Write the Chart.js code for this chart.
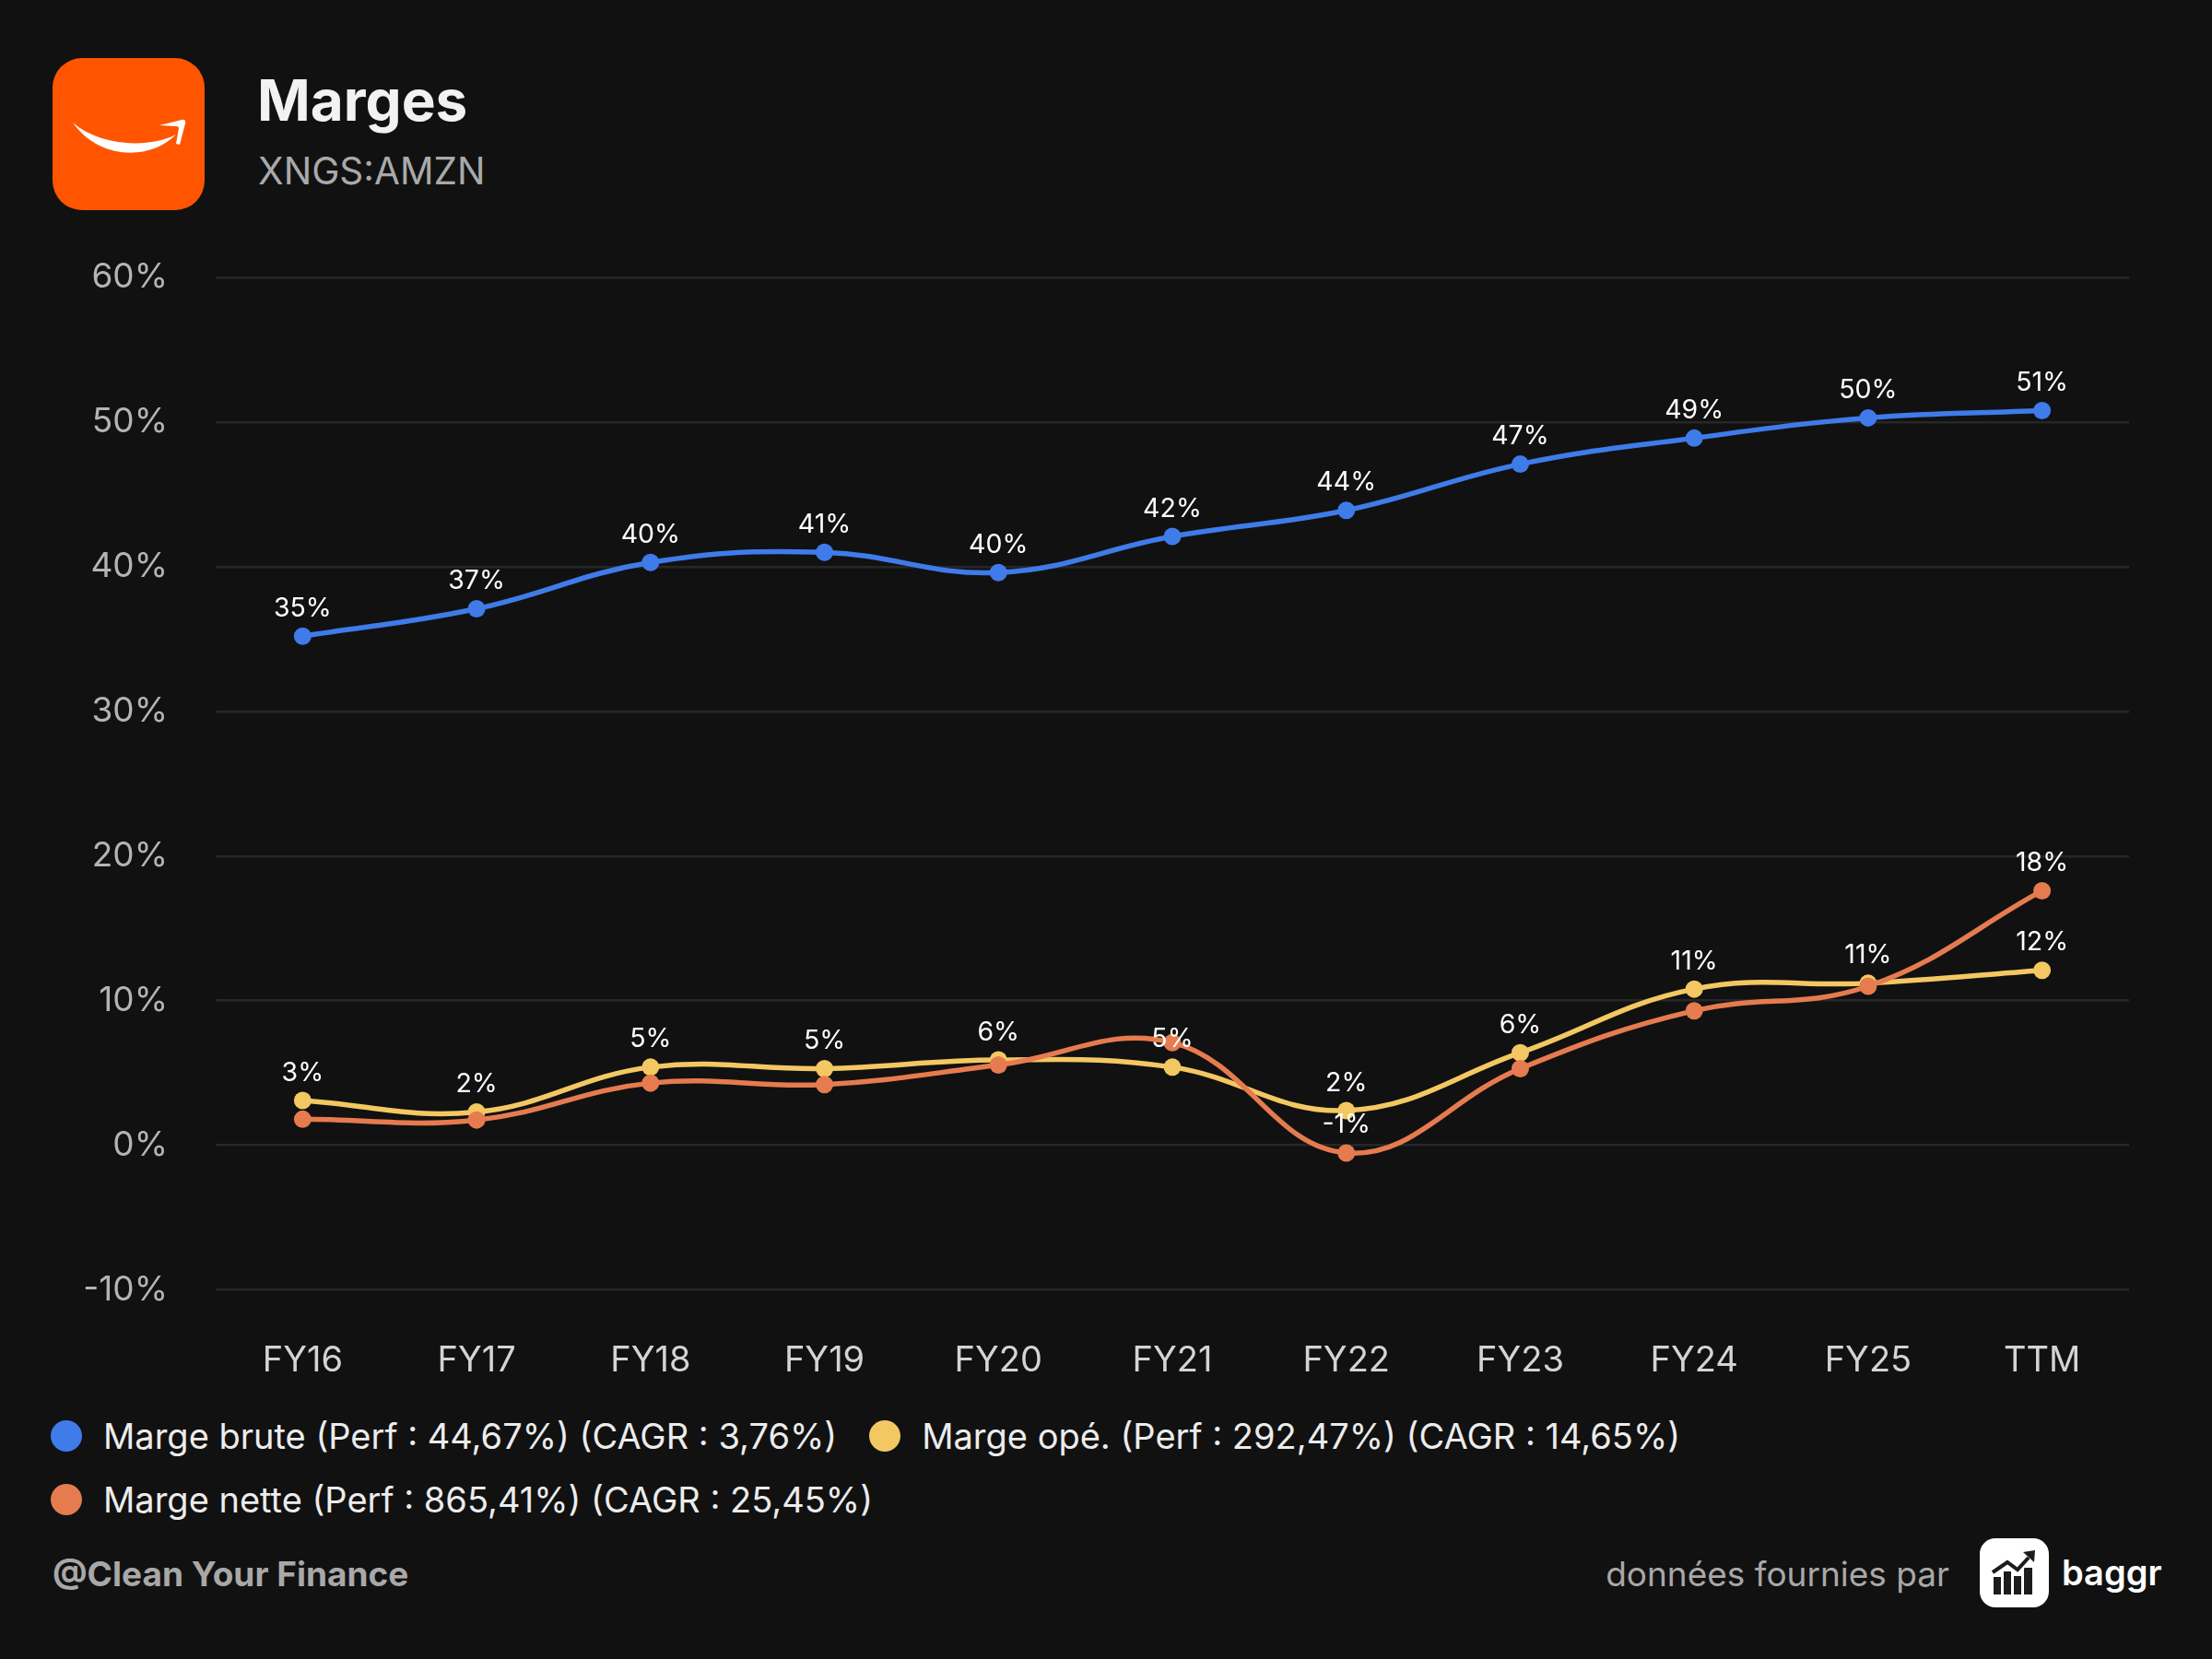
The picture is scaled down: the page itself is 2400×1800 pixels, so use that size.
<!DOCTYPE html>
<html>
<head>
<meta charset="utf-8">
<script src="https://cdn.jsdelivr.net/npm/chart.js@4.4.1/dist/chart.umd.min.js"></script>
<style>
html,body{margin:0;padding:0;background:#111111;width:2400px;height:1800px;overflow:hidden;font-family:Inter,"Noto Sans",sans-serif;}
.abs{position:absolute;white-space:nowrap;}
#logo{left:57px;top:63px;width:165px;height:165px;}
#title{left:279px;top:78px;font-size:62px;line-height:62px;font-weight:700;color:#f2f2f2;}
#subtitle{left:280px;top:166px;font-size:40.5px;line-height:39px;font-weight:400;color:#a9a9a9;}
#chartWrap{left:0;top:226.5px;width:2400px;height:1303.5px;}
.lrow{position:absolute;left:55px;height:44px;display:flex;align-items:center;gap:35px;}
.litem{display:flex;align-items:center;font-size:38px;line-height:44px;color:#ececec;}
.dot{width:34px;height:34px;border-radius:50%;margin-right:23px;flex:none;}
#credit{left:57px;top:1686px;font-size:37px;line-height:44px;font-weight:700;color:#a8a8a8;}
#source{right:285px;top:1686px;font-size:37px;line-height:44px;color:#a8a8a8;}
#bicon{left:2148px;top:1669px;width:75px;height:75px;}
#bname{left:2237px;top:1684px;font-size:38px;line-height:44px;font-weight:600;color:#ffffff;}
</style>
</head>
<body>
<svg id="logo" class="abs" viewBox="0 0 165 165">
  <rect x="0" y="0" width="165" height="165" rx="32" ry="32" fill="#FF5500"/>
  <path d="M22 70 C50 110 105 112 134 83 C104 98 52 96 22 70 Z" fill="#ffffff"/>
  <path d="M116 73 L140 67 Q145 66 144 71 L138 94 L134 93 L137 76 Q137 74 134 74 Z" fill="#ffffff"/>
</svg>
<div id="title" class="abs">Marges</div>
<div id="subtitle" class="abs">XNGS:AMZN</div>

<div id="chartWrap" class="abs"><canvas id="chart"></canvas></div>

<div id="legend"></div>

<div id="credit" class="abs">@Clean Your Finance</div>
<div id="source" class="abs">données fournies par</div>
<svg id="bicon" class="abs" viewBox="0 0 75 75">
  <rect x="0" y="0" width="75" height="75" rx="17" ry="17" fill="#ffffff"/>
  <rect x="15" y="42" width="8" height="19" fill="#1c1c1c"/>
  <rect x="26" y="36" width="8" height="25" fill="#1c1c1c"/>
  <rect x="37" y="41" width="8" height="20" fill="#1c1c1c"/>
  <rect x="48" y="32" width="9" height="29" fill="#1c1c1c"/>
  <path d="M14 39 L30 28 L41 36 L54 22" stroke="#ffffff" stroke-width="6" fill="none"/>
  <path d="M14 37 L30 26 L41 34 L53 21" stroke="#1c1c1c" stroke-width="4" fill="none"/>
  <path d="M47 15 L60 13 L59 26 Z" fill="#1c1c1c"/>
</svg>
<div id="bname" class="abs">baggr</div>

<script>
// ---- Data ----
const categories = ["FY16","FY17","FY18","FY19","FY20","FY21","FY22","FY23","FY24","FY25","TTM"];
const margeBrute = [35.2, 37.1, 40.3, 41.0, 39.6, 42.1, 43.9, 47.1, 48.9, 50.3, 50.8];
const margeOpe   = [3.1, 2.3, 5.4, 5.3, 5.9, 5.4, 2.4, 6.4, 10.8, 11.2, 12.1];
const margeNette = [1.8, 1.75, 4.3, 4.2, 5.55, 7.1, -0.53, 5.3, 9.3, 11.0, 17.6];
const seriesNames = [
  "Marge brute (Perf : 44,67%) (CAGR : 3,76%)",
  "Marge opé. (Perf : 292,47%) (CAGR : 14,65%)",
  "Marge nette (Perf : 865,41%) (CAGR : 25,45%)"
];
const seriesColors = ["#3f7be9", "#f3c862", "#e57b4f"];
const yTicks = [-10, 0, 10, 20, 30, 40, 50, 60];

// ---- Legend (HTML) ----
(function(){
  const legend = document.getElementById('legend');
  const rows = [[0,1],[2]];
  const tops = [1536, 1605];
  rows.forEach((r, ri) => {
    const row = document.createElement('div');
    row.className = 'lrow';
    row.style.top = tops[ri] + 'px';
    r.forEach(i => {
      const it = document.createElement('div');
      it.className = 'litem';
      const d = document.createElement('span');
      d.className = 'dot';
      d.style.background = seriesColors[i];
      it.appendChild(d);
      it.appendChild(document.createTextNode(seriesNames[i]));
      row.appendChild(it);
    });
    legend.appendChild(row);
  });
})();

// ---- Value labels plugin with overlap hiding ----
const valueLabels = {
  id: 'valueLabels',
  afterDatasetsDraw(chart) {
    const ctx = chart.ctx;
    ctx.save();
    ctx.font = '400 28.5px Inter, "Noto Sans", sans-serif';
    ctx.fillStyle = '#ffffff';
    ctx.textAlign = 'center';
    ctx.textBaseline = 'middle';
    const placed = [];
    chart.data.datasets.forEach((ds, i) => {
      const meta = chart.getDatasetMeta(i);
      meta.data.forEach((pt, j) => {
        const v = ds.data[j];
        const t = v.toFixed(0) + '%';
        const w = ctx.measureText(t).width;
        const x = pt.x, y = pt.y - 30;
        const box = {l: x - w/2 - 4, r: x + w/2 + 4, t: y - 19, b: y + 19};
        const hit = placed.some(p => !(box.r < p.l || box.l > p.r || box.b < p.t || box.t > p.b));
        if (hit) return;
        placed.push(box);
        ctx.fillText(t, x, y);
      });
    });
    ctx.restore();
  }
};

const mk = (data, idx, order) => ({
  label: seriesNames[idx],
  data: data,
  borderColor: seriesColors[idx],
  backgroundColor: seriesColors[idx],
  pointBackgroundColor: seriesColors[idx],
  pointBorderWidth: 0,
  pointRadius: 9.5,
  borderWidth: 5.5,
  tension: 0.4,
  fill: false,
  order: order
});

new Chart(document.getElementById('chart'), {
  type: 'line',
  data: {
    labels: categories,
    datasets: [mk(margeBrute, 0, 0), mk(margeOpe, 1, 2), mk(margeNette, 2, 1)]
  },
  plugins: [valueLabels],
  options: {
    responsive: true,
    maintainAspectRatio: false,
    animation: false,
    layout: {padding: {top: 45, right: 90, left: 0, bottom: 0}},
    plugins: {legend: {display: false}, tooltip: {enabled: false}},
    scales: {
      x: {
        offset: true,
        grid: {display: false, drawTicks: false},
        border: {display: false},
        ticks: {color: '#d4d4d4', font: {family: 'Inter', size: 38}, padding: 54, maxRotation: 0, autoSkip: false},
        afterFit(s) { s.height = 131; }
      },
      y: {
        min: -10, max: 60,
        afterBuildTicks(s) { s.ticks = yTicks.map(v => ({value: v})); },
        grid: {color: '#272727', lineWidth: 2.5, drawTicks: false},
        border: {display: false},
        ticks: {color: '#b4b4b4', font: {family: 'Inter', size: 37}, padding: 52, callback: v => v + '%'},
        afterFit(s) { s.width = 234; }
      }
    }
  }
});
</script>
</body>
</html>
